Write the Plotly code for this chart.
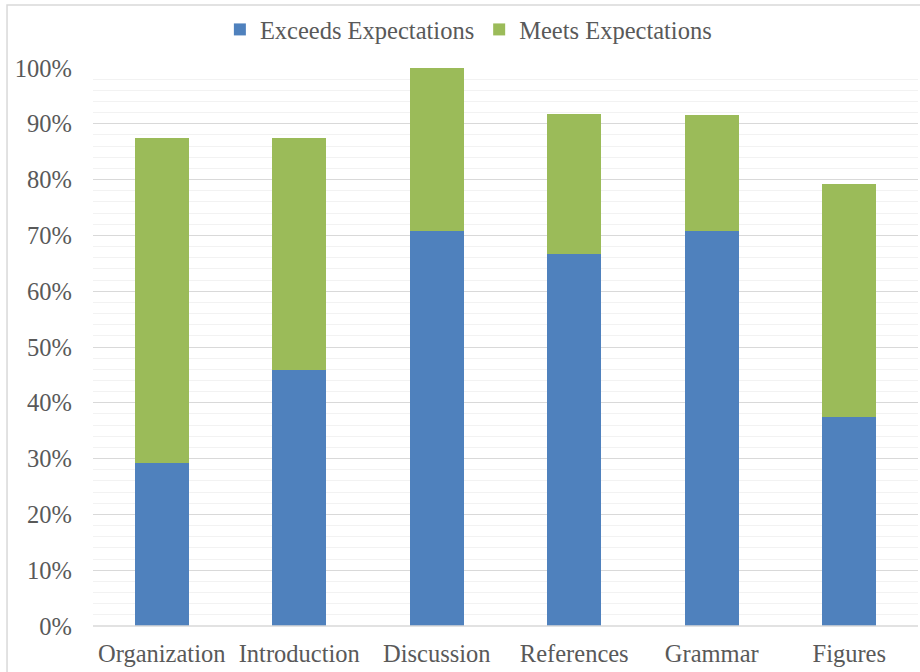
import plotly.graph_objects as go

categories = ["Organization", "Introduction", "Discussion", "References", "Grammar", "Figures"]
exceeds = [0.292, 0.458, 0.708, 0.667, 0.708, 0.375]
meets = [0.583, 0.417, 0.292, 0.250, 0.208, 0.417]
tick_vals = [i / 10 for i in range(11)]
tick_text = [f"{i * 10}%" for i in range(11)]

fig = go.Figure()
fig.add_trace(go.Bar(name="Exceeds Expectations", x=categories, y=exceeds,
                     marker=dict(color="#4F81BD", line=dict(width=0))))
fig.add_trace(go.Bar(name="Meets Expectations", x=categories, y=meets,
                     marker=dict(color="#9BBB59", line=dict(width=0))))

font = dict(family="Liberation Serif", size=24.5, color="#595959")

fig.update_layout(
    barmode="stack",
    bargap=0.61,
    width=920, height=672,
    margin=dict(l=93, r=2, t=68, b=46),
    paper_bgcolor="white", plot_bgcolor="white",
    font=font,
    showlegend=True,
    legend=dict(orientation="h", x=0.455, xanchor="center", y=1.069, yanchor="middle",
                font=font, itemwidth=30, traceorder="normal", bgcolor="rgba(0,0,0,0)"),
    xaxis=dict(showgrid=False, showline=False, ticks="", tickfont=font, ticklen=0,
               ticklabelstandoff=10),
    yaxis=dict(range=[0, 1.0], tickvals=tick_vals, ticktext=tick_text, tickfont=font,
               showgrid=True, gridcolor="#D9D9D9", gridwidth=1, zeroline=False,
               showline=False, ticks="", ticklabelstandoff=20,
               minor=dict(dtick=0.02, showgrid=True, gridcolor="#F2F2F2", gridwidth=1)),
)
fig.add_shape(type="rect", xref="paper", yref="paper",
              x0=-0.1042, x1=1.2, y0=-0.2, y1=1.113,
              line=dict(color="#D9D9D9", width=1.5), layer="below")
fig.add_shape(type="line", xref="paper", yref="paper", x0=0, x1=1, y0=0, y1=0,
              line=dict(color="#D9D9D9", width=1.5))

fig.write_html("out.html", config={"displayModeBar": False},
               post_script="document.body.style.margin='0';document.body.style.overflow='hidden';")
